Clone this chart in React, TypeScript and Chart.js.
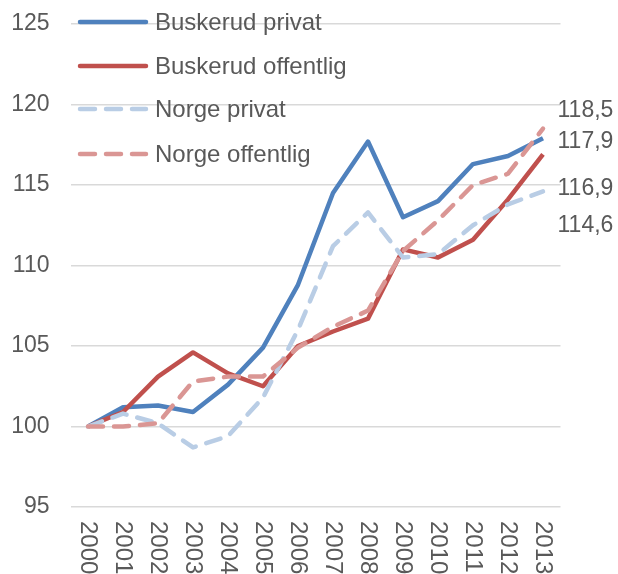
import React, { useEffect, useRef } from "react";
import { Chart, registerables } from "chart.js";

Chart.register(...registerables);

const years = ["2000", "2001", "2002", "2003", "2004", "2005", "2006", "2007", "2008", "2009", "2010", "2011", "2012", "2013"];
const buskerudPrivat = [100, 101.2, 101.3, 100.9, 102.6, 104.9, 108.8, 114.5, 117.7, 113.0, 114.0, 116.3, 116.8, 117.9];
const buskerudOffentlig = [100, 100.9, 103.1, 104.6, 103.3, 102.5, 105.0, 105.9, 106.7, 111.0, 110.5, 111.6, 114.1, 116.9];
const norgePrivat = [100, 100.8, 100.2, 98.7, 99.4, 101.8, 106.0, 111.2, 113.3, 110.5, 110.7, 112.5, 113.8, 114.6];
const norgeOffentlig = [100, 100.0, 100.2, 102.8, 103.1, 103.1, 104.9, 106.2, 107.2, 110.9, 112.8, 115.0, 115.7, 118.5];
const yTicks = [95, 100, 105, 110, 115, 120, 125];
const endLabels = ["118,5", "117,9", "116,9", "114,6"];
const endValues = [118.5, 117.9, 116.9, 114.6];
const endOffsets = [-18, 3, 34, 34];

const FONT = "'Liberation Sans', Arial, sans-serif";
const TEXT = "#595959";

const seriesStyles = [
  { label: "Buskerud privat", data: buskerudPrivat, color: "#4F81BD", dash: [] as number[] },
  { label: "Buskerud offentlig", data: buskerudOffentlig, color: "#C0504D", dash: [] as number[] },
  { label: "Norge privat", data: norgePrivat, color: "#B9CDE5", dash: [15, 11] },
  { label: "Norge offentlig", data: norgeOffentlig, color: "#DA9694", dash: [15, 11] },
];

const overlayPlugin = {
  id: "overlay",
  afterDraw(chart: any) {
    const ctx = chart.ctx as CanvasRenderingContext2D;
    const xs = chart.scales.x;
    const ys = chart.scales.y;
    ctx.save();
    ctx.fillStyle = TEXT;
    ctx.font = `24px ${FONT}`;
    // rotated x labels
    years.forEach((y, i) => {
      const px = xs.getPixelForValue(i);
      ctx.save();
      ctx.translate(px, chart.chartArea.bottom + 14);
      ctx.rotate(Math.PI / 2);
      ctx.textAlign = "left";
      ctx.textBaseline = "middle";
      ctx.fillText(y, 0, 0);
      ctx.restore();
    });
    // end labels
    ctx.font = `23px ${FONT}`;
    ctx.textAlign = "left";
    ctx.textBaseline = "middle";
    endLabels.forEach((t, i) => {
      const py = ys.getPixelForValue(endValues[i]) + endOffsets[i];
      ctx.fillText(t, chart.chartArea.right - 3, py);
    });
    // legend
    ctx.font = `24px ${FONT}`;
    const legendY = [22, 66, 109, 154];
    seriesStyles.forEach((s, i) => {
      ctx.save();
      ctx.strokeStyle = s.color;
      ctx.lineWidth = 4.5;
      ctx.lineCap = "round";
      ctx.setLineDash(s.dash);
      ctx.beginPath();
      ctx.moveTo(80, legendY[i]);
      ctx.lineTo(146, legendY[i]);
      ctx.stroke();
      ctx.restore();
      ctx.fillText(s.label, 155, legendY[i] + 1);
    });
    ctx.restore();
  },
};

export default function App() {
  const ref = useRef<HTMLCanvasElement>(null);
  useEffect(() => {
    if (!ref.current) return;
    const chart = new Chart(ref.current, {
      type: "line",
      data: {
        labels: years,
        datasets: seriesStyles.map((s, i) => ({
          label: s.label,
          data: s.data,
          borderColor: s.color,
          backgroundColor: s.color,
          borderWidth: 4.5,
          borderDash: s.dash,
          borderCapStyle: s.dash.length ? "round" : "butt",
          borderJoinStyle: "round",
          pointRadius: 0,
          tension: 0,
          fill: false,
          order: 4 - i,
        })),
      },
      options: {
        animation: false,
        responsive: false,
        maintainAspectRatio: false,
        layout: { padding: { top: 24, right: 57.5, left: 0, bottom: 0 } },
        plugins: { legend: { display: false }, tooltip: { enabled: false } },
        scales: {
          x: {
            type: "category",
            offset: true,
            grid: { display: false },
            border: { display: false },
            ticks: { display: false },
            afterFit: (s: any) => {
              s.height = 67;
              s.paddingLeft = 0;
              s.paddingRight = 0;
            },
          },
          y: {
            min: 95,
            max: 125,
            afterBuildTicks: (s: any) => {
              s.ticks = yTicks.map((v) => ({ value: v }));
            },
            afterFit: (s: any) => {
              s.width = 70.5;
              s.paddingTop = 0;
              s.paddingBottom = 0;
            },
            grid: { color: "#D9D9D9", lineWidth: 1.5, drawTicks: false },
            border: { display: false },
            ticks: {
              color: TEXT,
              padding: 21,
              font: { size: 23, family: FONT },
            },
          },
        },
      },
      plugins: [overlayPlugin],
    } as any);
    return () => chart.destroy();
  }, []);
  return (
    <div style={{ position: "fixed", left: 0, top: 0, width: 618, height: 574, background: "#fff" }}>
      <canvas ref={ref} width={618} height={574} style={{ width: 618, height: 574 }} />
    </div>
  );
}
